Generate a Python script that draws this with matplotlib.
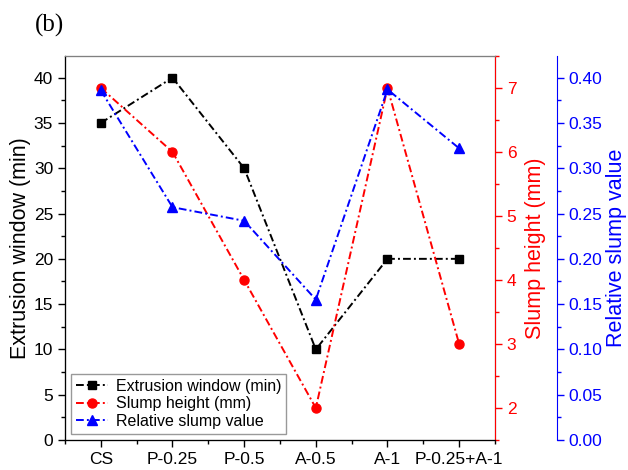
import matplotlib.pyplot as plt
from matplotlib.ticker import MultipleLocator

plt.rcParams['font.family'] = ['Liberation Sans', 'DejaVu Sans']

# data
samples = ['CS', 'P-0.25', 'P-0.5', 'A-0.5', 'A-1', 'P-0.25+A-1']
extrusion_window = [35, 40, 30, 10, 20, 20]
slump_height = [7.0, 6.0, 4.0, 2.0, 7.0, 3.0]
relative_slump = [0.386, 0.257, 0.242, 0.155, 0.387, 0.322]

x = list(range(len(samples)))
dash = (4, 1.6, 1, 1.6)

fig = plt.figure(figsize=(6.28, 4.70), dpi=100)
ax1 = fig.add_axes([0.1035, 0.0638, 0.6847, 0.8172])
ax2 = ax1.twinx()
ax3 = ax1.twinx()
ax3.spines['right'].set_position(('outward', 44.6))

l1, = ax1.plot(x, extrusion_window, color='black', dashes=dash, marker='s',
               markersize=5.5, linewidth=1.4, label='Extrusion window (min)')
l2, = ax2.plot(x, slump_height, color='red', dashes=dash, marker='o',
               markersize=6.5, linewidth=1.4, label='Slump height (mm)')
l3, = ax3.plot(x, relative_slump, color='blue', dashes=dash, marker='^',
               markersize=7, linewidth=1.4, label='Relative slump value')

ax1.set_xlim(-0.5, 5.5)
ax1.set_xticks(x)
ax1.set_xticklabels(samples)
ax1.xaxis.set_minor_locator(MultipleLocator(0.5))

ax1.set_ylim(0, 42.4)
ax1.yaxis.set_major_locator(MultipleLocator(5))
ax1.yaxis.set_minor_locator(MultipleLocator(2.5))
ax1.set_ylabel('Extrusion window (min)', fontsize=15.5, labelpad=2)

ax2.set_ylim(1.5, 7.5)
ax2.yaxis.set_major_locator(MultipleLocator(1))
ax2.yaxis.set_minor_locator(MultipleLocator(0.5))
ax2.set_ylabel('Slump height (mm)', fontsize=15.5, color='red', labelpad=6)
ax2.spines['right'].set_color('red')
ax2.tick_params(axis='y', which='both', colors='red')

ax3.set_ylim(0, 0.424)
ax3.yaxis.set_major_locator(MultipleLocator(0.05))
ax3.yaxis.set_minor_locator(MultipleLocator(0.025))
ax3.yaxis.set_major_formatter(plt.FormatStrFormatter('%.2f'))
ax3.set_ylabel('Relative slump value', fontsize=15.5, color='blue', labelpad=2)
ax3.spines['right'].set_color('blue')
ax3.tick_params(axis='y', which='both', colors='blue')

for a in (ax1, ax2, ax3):
    a.tick_params(which='major', length=5, width=1, labelsize=12.5)
    a.tick_params(which='minor', length=3, width=1)
    a.spines['top'].set_color('gray')

ax1.tick_params(axis='x', which='both', top=False)

ax1.legend(handles=[l1, l2, l3], loc='lower left', fontsize=11.5,
           fancybox=False, edgecolor='gray', handlelength=2.0,
           borderpad=0.3, labelspacing=0.15, handletextpad=0.5,
           borderaxespad=0.4)

fig.text(0.055, 0.945, '(b)', fontsize=18, family='Liberation Serif',
         va='center')

fig.savefig('out.png', dpi=100)
